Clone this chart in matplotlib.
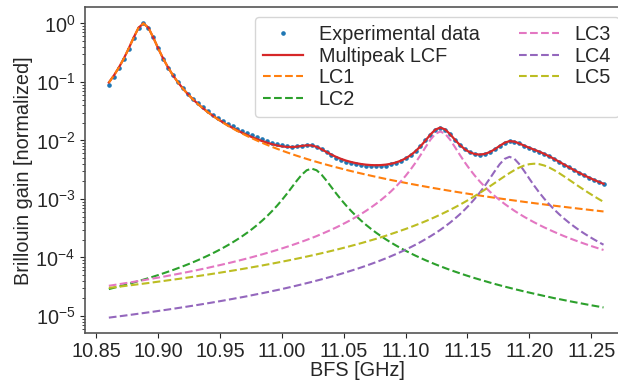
""" Multipeak Lorentzian fit of a Brillouin gain spectrum (log scale) """
import numpy as np
import matplotlib
matplotlib.use('Agg')
import matplotlib.pyplot as plt

# Brillouin frequency shift sweep [GHz]
bfs = [10.860, 10.864, 10.868, 10.872, 10.876, 10.880, 10.884, 10.888, 10.892, 10.896,
       10.900, 10.904, 10.908, 10.912, 10.916, 10.920, 10.924, 10.928, 10.932, 10.936,
       10.940, 10.944, 10.948, 10.952, 10.956, 10.960, 10.964, 10.968, 10.972, 10.976,
       10.980, 10.984, 10.988, 10.992, 10.996, 11.000, 11.004, 11.008, 11.012, 11.016,
       11.020, 11.024, 11.028, 11.032, 11.036, 11.040, 11.044, 11.048, 11.052, 11.056,
       11.060, 11.064, 11.068, 11.072, 11.076, 11.080, 11.084, 11.088, 11.092, 11.096,
       11.100, 11.104, 11.108, 11.112, 11.116, 11.120, 11.124, 11.128, 11.132, 11.136,
       11.140, 11.144, 11.148, 11.152, 11.156, 11.160, 11.164, 11.168, 11.172, 11.176,
       11.180, 11.184, 11.188, 11.192, 11.196, 11.200, 11.204, 11.208, 11.212, 11.216,
       11.220, 11.224, 11.228, 11.232, 11.236, 11.240, 11.244, 11.248, 11.252, 11.256,
       11.260]

# measured (normalized) gain
experimental = [
    0.0887, 0.122, 0.170, 0.245, 0.368, 0.566, 0.838, 1.0, 0.848, 0.578,
    0.374, 0.250, 0.176, 0.129, 0.0985, 0.0775, 0.0625, 0.0516, 0.0432, 0.0368,
    0.0317, 0.0276, 0.0243, 0.0216, 0.0193, 0.0174, 0.0158, 0.0144, 0.0132, 0.0122,
    0.0113, 0.0105, 0.00980, 0.00918, 0.00865, 0.00820, 0.00795, 0.00782, 0.00790, 0.00810,
    0.00828, 0.00822, 0.00780, 0.00705, 0.00630, 0.00562, 0.00509, 0.00468, 0.00435, 0.00409,
    0.00390, 0.00375, 0.00365, 0.00360, 0.00359, 0.00362, 0.00372, 0.00388, 0.00411, 0.00444,
    0.00492, 0.00560, 0.00660, 0.00800, 0.01000, 0.01260, 0.01520, 0.01640, 0.01530, 0.01270,
    0.01020, 0.00832, 0.00705, 0.00625, 0.00582, 0.00568, 0.00585, 0.00630, 0.00706, 0.00808,
    0.00912, 0.00970, 0.00955, 0.00888, 0.00815, 0.00752, 0.00698, 0.00645, 0.00590, 0.00536,
    0.00482, 0.00432, 0.00387, 0.00346, 0.00311, 0.00280, 0.00254, 0.00231, 0.00211, 0.00194,
    0.00179]

# Lorentzian components
lc1 = [
    0.09744, 0.1281, 0.1746, 0.2485, 0.3702, 0.5694, 0.8410, 1.0, 0.8410, 0.5694,
    0.3702, 0.2485, 0.1746, 0.1281, 0.09744, 0.07634, 0.06130, 0.05024, 0.04189, 0.03543,
    0.03035, 0.02628, 0.02297, 0.02025, 0.01797, 0.01606, 0.01444, 0.01305, 0.01185, 0.01081,
    0.00990, 0.00910, 0.00839, 0.00776, 0.00720, 0.00670, 0.00625, 0.00584, 0.00547, 0.00514,
    0.00483, 0.00455, 0.00430, 0.00406, 0.00385, 0.00365, 0.00347, 0.00330, 0.003137, 0.002990,
    0.002853, 0.002725, 0.002605, 0.002494, 0.002389, 0.002291, 0.002198, 0.002111, 0.002030, 0.001952,
    0.001880, 0.001811, 0.001746, 0.001684, 0.001626, 0.001570, 0.001517, 0.001467, 0.001420, 0.001374,
    0.001331, 0.001290, 0.001250, 0.001213, 0.001177, 0.001143, 0.001110, 0.001078, 0.001048, 0.001019,
    0.000992, 0.000965, 0.000940, 0.000915, 0.000891, 0.000869, 0.000847, 0.000826, 0.000806, 0.000786,
    0.000767, 0.000749, 0.000732, 0.000715, 0.000698, 0.000683, 0.000667, 0.000653, 0.000638, 0.000625,
    0.000611]

lc2 = [
    2.88e-5, 3.03e-5, 3.18e-5, 3.35e-5, 3.53e-5, 3.73e-5, 3.95e-5, 4.18e-5, 4.43e-5, 4.71e-5,
    5.01e-5, 5.35e-5, 5.72e-5, 6.12e-5, 6.58e-5, 7.08e-5, 7.64e-5, 8.28e-5, 8.99e-5, 9.81e-5,
    1.073e-4, 1.179e-4, 1.302e-4, 1.444e-4, 1.610e-4, 1.806e-4, 2.04e-4, 2.32e-4, 2.66e-4, 3.08e-4,
    3.60e-4, 4.26e-4, 5.10e-4, 6.21e-4, 7.66e-4, 9.62e-4, 1.228e-3, 1.587e-3, 2.053e-3, 2.599e-3,
    3.091e-3, 3.30e-3, 3.091e-3, 2.599e-3, 2.053e-3, 1.587e-3, 1.228e-3, 9.62e-4, 7.66e-4, 6.21e-4,
    5.10e-4, 4.26e-4, 3.60e-4, 3.08e-4, 2.66e-4, 2.32e-4, 2.04e-4, 1.806e-4, 1.610e-4, 1.444e-4,
    1.302e-4, 1.179e-4, 1.073e-4, 9.81e-5, 8.99e-5, 8.28e-5, 7.64e-5, 7.08e-5, 6.58e-5, 6.12e-5,
    5.72e-5, 5.35e-5, 5.01e-5, 4.71e-5, 4.43e-5, 4.18e-5, 3.95e-5, 3.73e-5, 3.53e-5, 3.35e-5,
    3.18e-5, 3.03e-5, 2.88e-5, 2.75e-5, 2.62e-5, 2.51e-5, 2.40e-5, 2.30e-5, 2.20e-5, 2.11e-5,
    2.02e-5, 1.945e-5, 1.870e-5, 1.799e-5, 1.732e-5, 1.669e-5, 1.609e-5, 1.552e-5, 1.499e-5, 1.448e-5,
    1.399e-5]

lc3 = [
    3.28e-5, 3.38e-5, 3.49e-5, 3.60e-5, 3.71e-5, 3.83e-5, 3.96e-5, 4.09e-5, 4.23e-5, 4.38e-5,
    4.53e-5, 4.69e-5, 4.87e-5, 5.05e-5, 5.24e-5, 5.44e-5, 5.66e-5, 5.88e-5, 6.12e-5, 6.38e-5,
    6.65e-5, 6.95e-5, 7.26e-5, 7.59e-5, 7.94e-5, 8.32e-5, 8.73e-5, 9.17e-5, 9.64e-5, 1.015e-4,
    1.071e-4, 1.130e-4, 1.195e-4, 1.266e-4, 1.343e-4, 1.428e-4, 1.520e-4, 1.622e-4, 1.735e-4, 1.859e-4,
    1.997e-4, 2.15e-4, 2.32e-4, 2.52e-4, 2.74e-4, 2.99e-4, 3.27e-4, 3.60e-4, 3.98e-4, 4.42e-4,
    4.93e-4, 5.54e-4, 6.27e-4, 7.16e-4, 8.23e-4, 9.57e-4, 1.124e-3, 1.338e-3, 1.616e-3, 1.985e-3,
    2.486e-3, 3.183e-3, 4.172e-3, 5.594e-3, 7.613e-3, 1.0256e-2, 1.2955e-2, 1.42e-2, 1.2955e-2, 1.0256e-2,
    7.613e-3, 5.594e-3, 4.172e-3, 3.183e-3, 2.486e-3, 1.985e-3, 1.616e-3, 1.338e-3, 1.124e-3, 9.57e-4,
    8.23e-4, 7.16e-4, 6.27e-4, 5.54e-4, 4.93e-4, 4.42e-4, 3.98e-4, 3.60e-4, 3.27e-4, 2.99e-4,
    2.74e-4, 2.52e-4, 2.32e-4, 2.15e-4, 1.997e-4, 1.859e-4, 1.735e-4, 1.622e-4, 1.520e-4, 1.428e-4,
    1.343e-4]

lc4 = [
    9.37e-6, 9.61e-6, 9.85e-6, 1.010e-5, 1.037e-5, 1.064e-5, 1.093e-5, 1.122e-5, 1.153e-5, 1.185e-5,
    1.219e-5, 1.254e-5, 1.290e-5, 1.329e-5, 1.368e-5, 1.410e-5, 1.454e-5, 1.499e-5, 1.547e-5, 1.597e-5,
    1.650e-5, 1.705e-5, 1.763e-5, 1.824e-5, 1.889e-5, 1.957e-5, 2.03e-5, 2.10e-5, 2.18e-5, 2.27e-5,
    2.36e-5, 2.45e-5, 2.55e-5, 2.66e-5, 2.77e-5, 2.89e-5, 3.02e-5, 3.16e-5, 3.31e-5, 3.47e-5,
    3.64e-5, 3.82e-5, 4.02e-5, 4.23e-5, 4.46e-5, 4.71e-5, 4.98e-5, 5.27e-5, 5.60e-5, 5.95e-5,
    6.33e-5, 6.75e-5, 7.22e-5, 7.74e-5, 8.31e-5, 8.95e-5, 9.67e-5, 1.048e-4, 1.139e-4, 1.242e-4,
    1.360e-4, 1.496e-4, 1.652e-4, 1.834e-4, 2.05e-4, 2.30e-4, 2.60e-4, 2.96e-4, 3.41e-4, 3.95e-4,
    4.64e-4, 5.51e-4, 6.64e-4, 8.13e-4, 1.014e-3, 1.290e-3, 1.677e-3, 2.221e-3, 2.971e-3, 3.915e-3,
    4.838e-3, 5.25e-3, 4.838e-3, 3.915e-3, 2.971e-3, 2.221e-3, 1.677e-3, 1.290e-3, 1.014e-3, 8.13e-4,
    6.64e-4, 5.51e-4, 4.64e-4, 3.95e-4, 3.41e-4, 2.96e-4, 2.60e-4, 2.30e-4, 2.05e-4, 1.834e-4,
    1.652e-4]

lc5 = [
    3.02e-5, 3.09e-5, 3.16e-5, 3.24e-5, 3.32e-5, 3.40e-5, 3.49e-5, 3.57e-5, 3.66e-5, 3.76e-5,
    3.86e-5, 3.96e-5, 4.07e-5, 4.18e-5, 4.29e-5, 4.41e-5, 4.54e-5, 4.67e-5, 4.81e-5, 4.95e-5,
    5.10e-5, 5.26e-5, 5.42e-5, 5.59e-5, 5.77e-5, 5.96e-5, 6.15e-5, 6.36e-5, 6.58e-5, 6.81e-5,
    7.05e-5, 7.30e-5, 7.57e-5, 7.85e-5, 8.15e-5, 8.47e-5, 8.80e-5, 9.16e-5, 9.53e-5, 9.93e-5,
    1.036e-4, 1.081e-4, 1.129e-4, 1.181e-4, 1.236e-4, 1.295e-4, 1.358e-4, 1.427e-4, 1.500e-4, 1.579e-4,
    1.664e-4, 1.756e-4, 1.856e-4, 1.965e-4, 2.08e-4, 2.21e-4, 2.35e-4, 2.51e-4, 2.68e-4, 2.87e-4,
    3.07e-4, 3.30e-4, 3.56e-4, 3.84e-4, 4.16e-4, 4.52e-4, 4.93e-4, 5.39e-4, 5.92e-4, 6.52e-4,
    7.21e-4, 8.00e-4, 8.92e-4, 9.99e-4, 1.124e-3, 1.269e-3, 1.440e-3, 1.639e-3, 1.871e-3, 2.138e-3,
    2.439e-3, 2.769e-3, 3.114e-3, 3.448e-3, 3.734e-3, 3.930e-3, 4.000e-3, 3.930e-3, 3.734e-3, 3.448e-3,
    3.114e-3, 2.769e-3, 2.439e-3, 2.138e-3, 1.871e-3, 1.639e-3, 1.440e-3, 1.269e-3, 1.124e-3, 9.99e-4,
    8.92e-4]

component_labels = ['LC1', 'LC2', 'LC3', 'LC4', 'LC5']
component_colors = ['tab:orange', 'tab:green', 'tab:pink', 'tab:purple', 'tab:olive']

plt.rcParams['font.family'] = ['Liberation Sans', 'DejaVu Sans']
plt.rcParams['font.size'] = 14.3
plt.rcParams['text.color'] = '#262626'
plt.rcParams['axes.labelcolor'] = '#262626'
plt.rcParams['xtick.color'] = '#262626'
plt.rcParams['ytick.color'] = '#262626'
plt.rcParams['xtick.major.pad'] = 2.5

components = [np.array(c) for c in (lc1, lc2, lc3, lc4, lc5)]
# the multipeak fit is the sum of the five Lorentzians
multipeak = np.sum(components, axis=0)

fig = plt.figure(figsize=(6.18, 3.85), dpi=100)
# right edge of the axes is cut off by the figure border, as in the source
ax = fig.add_axes([0.1375, 0.1343, 0.8803, 0.8465])

ax.plot(bfs, experimental, 'o', ms=2.3, color='tab:blue', label='Experimental data')
ax.plot(bfs, multipeak, '-', lw=1.6, color='tab:red', label='Multipeak LCF')
for comp, lab, col in zip(components, component_labels, component_colors):
    ax.plot(bfs, comp, '--', lw=1.5, color=col, label=lab)

ax.set_yscale('log')
ax.set_xlim(10.8407, 11.2806)
ax.set_ylim(5.06e-6, 1.877)
ax.set_xticks([10.85, 10.90, 10.95, 11.00, 11.05, 11.10, 11.15, 11.20, 11.25])
ax.set_xticklabels(['10.85', '10.90', '10.95', '11.00', '11.05',
                    '11.10', '11.15', '11.20', '11.25'])
ax.set_xlabel('BFS [GHz]', labelpad=0.5)
ax.set_ylabel('Brillouin gain [normalized]', labelpad=2)

for spine in ax.spines.values():
    spine.set_color('#555555')
    spine.set_linewidth(1.2)

ax.legend(loc='upper right', ncol=2, labelspacing=0.13, handlelength=2.0,
          columnspacing=2.0, borderpad=0.4, edgecolor='0.8')

plt.savefig('out.png', dpi=100)
